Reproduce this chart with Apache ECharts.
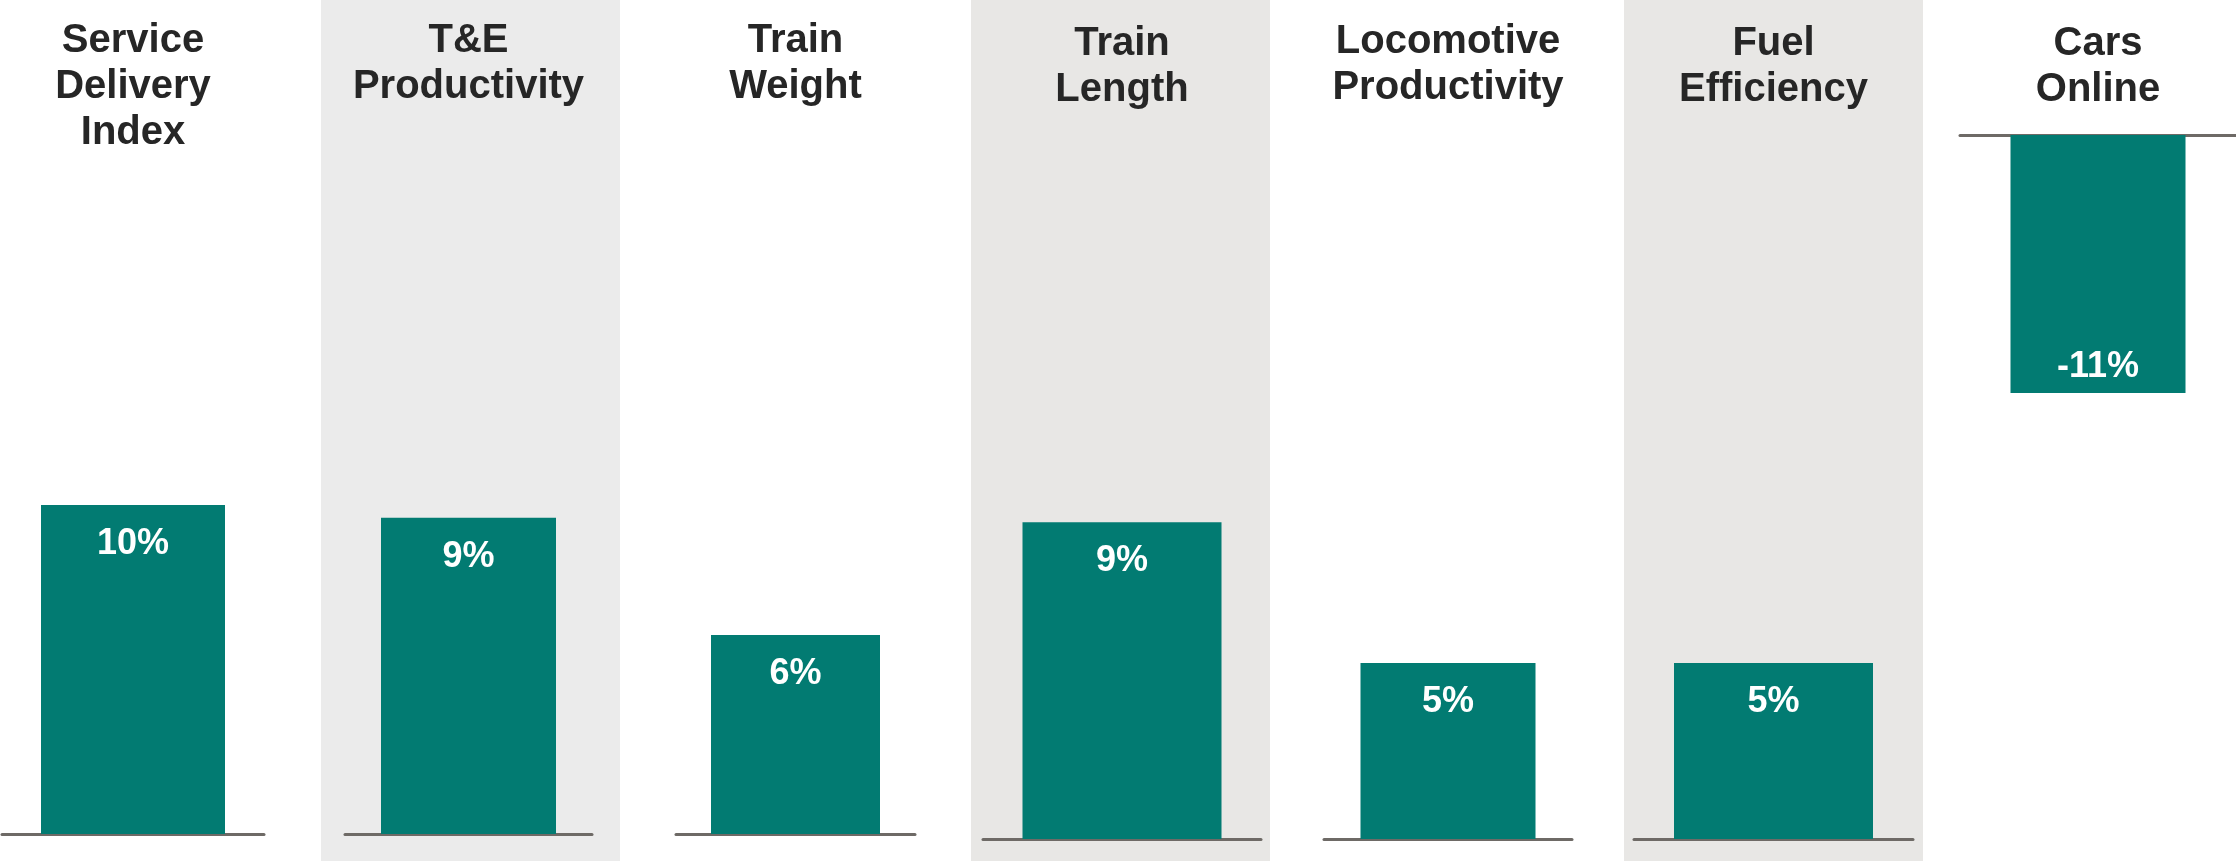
<!DOCTYPE html>
<html>
<head>
<meta charset="utf-8">
<title>Operating metrics</title>
<script src="https://cdn.jsdelivr.net/npm/echarts@6/dist/echarts.min.js"></script>
<style>
  html, body { margin: 0; padding: 0; background: #fff; }
  #chart { width: 2236px; height: 861px; }
</style>
</head>
<body>
<div id="chart"></div>
<script>
// data
var metrics = [
  "Service\nDelivery\nIndex",
  "T&E\nProductivity",
  "Train\nWeight",
  "Train\nLength",
  "Locomotive\nProductivity",
  "Fuel\nEfficiency",
  "Cars\nOnline",
];
var changes = [10, 9, 6, 9, 5, 5, -11];

// layout of each small panel (pixels), value axis range per panel
var panels = [
  { left: 2, right: 264, base: 834, barWidth: 184, min: 0, max: 21.25, titleTop: 18 },
  { left: 345, right: 592, base: 834, barWidth: 175, min: 0, max: 19.9, titleTop: 18 },
  { left: 676, right: 915, base: 834, barWidth: 169, min: 0, max: 21.08, titleTop: 18 },
  { left: 983, right: 1261, base: 839, barWidth: 199, min: 0, max: 20, titleTop: 21 },
  { left: 1324, right: 1572, base: 839, barWidth: 175, min: 0, max: 20, titleTop: 19 },
  { left: 1634, right: 1913, base: 839, barWidth: 199, min: 0, max: 20, titleTop: 21 },
  { left: 1960, right: 2236, base: 135, barWidth: 175, min: -29.8, max: 0, titleTop: 21 },
];
var bgBands = [
  [321, 620, "#ebebeb"],
  [971, 1270, "#e8e7e5"],
  [1624, 1923, "#e8e7e5"],
];

var H = 861;
var font = "Liberation Sans, Arial, sans-serif";

var grids = [], xAxes = [], yAxes = [], series = [], titles = [], graphics = [];

// grey column bands behind every other panel
for (var i = 0; i < bgBands.length; i++) {
  graphics.push({
    type: "rect",
    z: -10,
    shape: { x: bgBands[i][0], y: 0, width: bgBands[i][1] - bgBands[i][0], height: H },
    style: { fill: bgBands[i][2] },
  });
}

for (var i = 0; i < metrics.length; i++) {
  var p = panels[i];
  var neg = changes[i] < 0;
  grids.push(
    neg
      ? { left: p.left, width: p.right - p.left, top: p.base, height: 699 }
      : { left: p.left, width: p.right - p.left, top: 135, height: p.base - 135 }
  );
  xAxes.push({
    type: "category",
    gridIndex: i,
    data: [metrics[i]],
    axisLine: { show: true, onZero: true, lineStyle: { color: "#6e6a66", width: 3 } },
    axisTick: { show: false },
    axisLabel: { show: false },
    splitLine: { show: false },
  });
  yAxes.push({
    type: "value",
    gridIndex: i,
    min: p.min,
    max: p.max,
    show: false,
    splitLine: { show: false },
  });
  series.push({
    type: "bar",
    xAxisIndex: i,
    yAxisIndex: i,
    data: [changes[i]],
    barWidth: p.barWidth,
    itemStyle: { color: "#027b72" },
    label: {
      show: true,
      position: neg ? "insideBottom" : "insideTop",
      distance: neg ? 8 : 21,
      formatter: function (d) {
        return d.value + "%";
      },
      color: "#ffffff",
      fontFamily: font,
      fontWeight: "bold",
      fontSize: 36,
      lineHeight: 36,
    },
    silent: true,
  });
  titles.push({
    text: metrics[i],
    left: (p.left + p.right) / 2,
    top: p.titleTop,
    textAlign: "center",
    padding: 0,
    textStyle: {
      fontFamily: font,
      fontWeight: "bold",
      fontSize: 40,
      lineHeight: 46,
      color: "#262626",
    },
  });
}

var myChart = echarts.init(document.getElementById("chart"));
myChart.setOption({
  animation: false,
  backgroundColor: "#ffffff",
  title: titles,
  graphic: { elements: graphics },
  grid: grids,
  xAxis: xAxes,
  yAxis: yAxes,
  series: series,
});
</script>
</body>
</html>
